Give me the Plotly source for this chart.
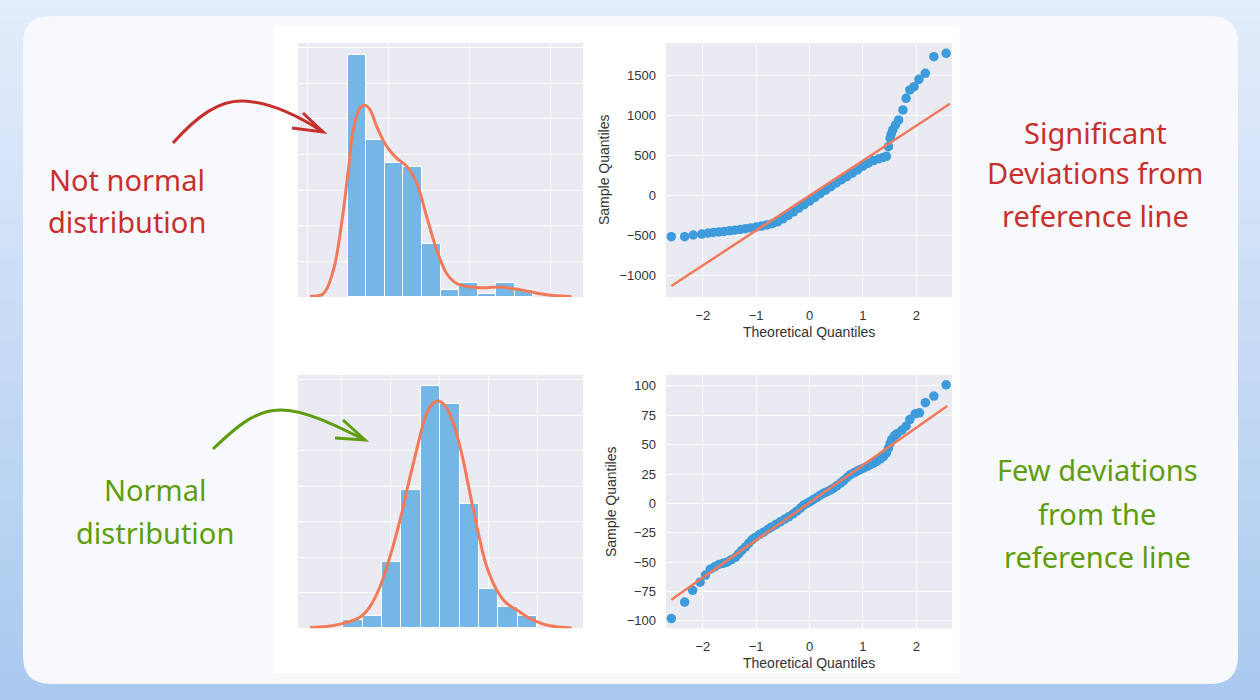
import numpy as np
import plotly.graph_objects as go

W, H = 1260, 700

# --- top row: skewed sample -------------------------------------------------
skew_bin_start = -501
skew_bin_width = 229
skew_heights = [68, 44.2, 37.7, 36.6, 15, 1.9, 3.9, 0.8, 3.9, 2.1]
skew_kde_x = [-965, -801, -677, -575, -492, -431, -349, -287, -225, -143, -20,
              104, 227, 350, 473, 597, 720, 843, 1008, 1213, 1378, 1542, 1706,
              1871, 2035, 2261]
skew_kde_y = [0.2, 0.9, 7.5, 20.7, 35.7, 47.0, 53.1, 53.8, 52.6, 47.9, 42.3,
              39.0, 36.7, 32.0, 22.6, 13.2, 6.6, 3.8, 2.8, 2.6, 2.8, 2.3, 1.7,
              0.9, 0.4, 0.1]

skew_qq_theo = [-2.59, -2.34, -2.18, -2.02, -1.90, -1.80, -1.70, -1.60, -1.50,
                -1.40, -1.30, -1.20, -1.10, -1.00, -0.90, -0.80, -0.70, -0.60,
                -0.50, -0.40, -0.30, -0.20, -0.10, 0.00, 0.10, 0.20, 0.30, 0.40,
                0.50, 0.60, 0.70, 0.80, 0.90, 1.00, 1.10, 1.20, 1.30, 1.38,
                1.44, 1.48, 1.51, 1.53, 1.56, 1.61, 1.67, 1.75, 1.81, 1.88,
                1.96, 2.05, 2.17, 2.33, 2.56]
skew_qq_sample = [-521, -521, -500, -488, -476, -468, -461, -455, -448, -440,
                  -431, -422, -412, -400, -388, -374, -358, -335, -298, -254,
                  -210, -163, -120, -76, -30, 16, 60, 104, 150, 192, 230, 272,
                  315, 360, 397, 430, 453, 470, 483, 604, 708, 760, 813, 875,
                  938, 1063, 1208, 1313, 1354, 1446, 1521, 1729, 1771]
skew_line_x = [-2.59, 2.63]
skew_line_y = [-1137, 1140]

# --- bottom row: normal sample ----------------------------------------------
norm_bin_start = -97.7
norm_bin_width = 19.76
norm_heights = [2.3, 3.5, 18.6, 39.0, 68.3, 63.1, 35.0, 11.0, 5.9, 3.5]
norm_kde_x = [-131.6, -114.6, -97.7, -80.7, -70.5, -60.3, -50.1, -39.9, -29.7,
              -23.0, -16.2, -9.4, -1.9, 5.9, 14.4, 22.9, 31.4, 39.9, 48.4, 58.6,
              68.8, 79.0, 89.1, 99.3, 112.9, 135.0]
norm_kde_y = [0.2, 0.5, 1.4, 3.1, 6.1, 11.7, 20.2, 30.5, 42.7, 50.2, 57.7, 62.4,
              64.1, 62.9, 57.7, 49.3, 38.0, 26.8, 17.4, 10.8, 7.0, 5.2, 3.3, 1.9,
              0.7, 0.1]

norm_qq_theo = [-2.59, -2.34, -2.19, -2.05, -1.95, -1.86, -1.78, -1.70, -1.62,
                -1.55, -1.47, -1.39, -1.33, -1.27, -1.20, -1.14, -1.08, -1.02,
                -0.94, -0.86, -0.78, -0.71, -0.63, -0.55, -0.47, -0.39, -0.31,
                -0.24, -0.17, -0.11, -0.05, 0.01, 0.07, 0.14, 0.20, 0.26, 0.33,
                0.39, 0.45, 0.51, 0.58, 0.64, 0.70, 0.76, 0.83, 0.89, 0.95,
                1.01, 1.08, 1.14, 1.20, 1.26, 1.33, 1.39, 1.44, 1.48, 1.51,
                1.54, 1.59, 1.64, 1.73, 1.81, 1.88, 1.98, 2.06, 2.17, 2.33, 2.56]
norm_qq_sample = [-98, -84, -74, -67, -61, -56, -54, -52, -51, -50, -48, -46,
                  -43, -40, -37, -34, -31, -29, -26.5, -24.5, -22, -20, -18,
                  -15.7, -13.5, -11.4, -9, -6.6, -4, -1.5, 0, 1.5, 3.3, 5.1, 7,
                  8.6, 10, 11.4, 13, 15, 17.2, 19.4, 22, 24.3, 26, 27.5, 28.8,
                  30, 31.5, 33, 34.3, 35.7, 37.8, 40, 43, 47, 51, 54.3, 57.5,
                  59.4, 62.3, 65.7, 71.4, 76.3, 77.1, 85.7, 91.4, 100.9]
norm_line_x = [-2.59, 2.58]
norm_line_y = [-82, 83]

# --- notes ------------------------------------------------------------------
top_left_note = ["Not normal", "distribution"]
top_right_note = ["Significant", "Deviations from", "reference line"]
bottom_left_note = ["Normal", "distribution"]
bottom_right_note = ["Few deviations", "from the", "reference line"]

BAR = "#74B7E6"
KDE = "#F27A5B"
DOT = "#3D9BDC"
RED = "#C8302E"
GREEN = "#5F9D0E"
PANEL = "#EAEAF2"
TICK_FONT = dict(family="Liberation Sans, Arial, sans-serif", size=13, color="#333333")


def px(x):
    return x / W


def py(y):
    return 1 - y / H


def bin_centers(start, width, n):
    return start + width * (np.arange(n) + 0.5)


fig = go.Figure()

# histograms + kde (xaxis / xaxis3)
for xa, ya, start, width, heights, kx, ky in [
    ("x", "y", skew_bin_start, skew_bin_width, skew_heights, skew_kde_x, skew_kde_y),
    ("x3", "y3", norm_bin_start, norm_bin_width, norm_heights, norm_kde_x, norm_kde_y),
]:
    fig.add_trace(go.Bar(
        x=bin_centers(start, width, len(heights)), y=heights, width=width,
        marker=dict(color=BAR, line=dict(color="white", width=1)),
        xaxis=xa, yaxis=ya,
    ))
    fig.add_trace(go.Scatter(
        x=kx, y=ky, mode="lines", line=dict(color=KDE, width=3, shape="spline"),
        xaxis=xa, yaxis=ya,
    ))

# qq plots (xaxis2 / xaxis4)
for xa, ya, tx, sy, lx, ly in [
    ("x2", "y2", skew_qq_theo, skew_qq_sample, skew_line_x, skew_line_y),
    ("x4", "y4", norm_qq_theo, norm_qq_sample, norm_line_x, norm_line_y),
]:
    fig.add_trace(go.Scatter(
        x=tx, y=sy, mode="markers", marker=dict(color=DOT, size=9.5),
        xaxis=xa, yaxis=ya,
    ))
    fig.add_trace(go.Scatter(
        x=lx, y=ly, mode="lines", line=dict(color=KDE, width=2.5),
        xaxis=xa, yaxis=ya,
    ))

left_dom = [px(298), px(583)]
right_dom = [px(666), px(952)]
top_dom = [py(297), py(43)]
bottom_dom = [py(628.3), py(375)]

hist_ax = dict(showticklabels=False, showgrid=True, gridcolor="white",
               gridwidth=1.2, zeroline=False, showline=False, ticks="")
qq_ax = dict(showgrid=True, gridcolor="white", gridwidth=1.2, zeroline=False,
             showline=False, ticks="", tickfont=TICK_FONT, ticklabelstandoff=9)

fig.update_layout(
    xaxis=dict(hist_ax, domain=left_dom, anchor="y", range=[-1113, 2401], tick0=0, dtick=1000),
    yaxis=dict(hist_ax, domain=top_dom, anchor="x", range=[0, 71.3], dtick=10),
    xaxis3=dict(hist_ax, domain=left_dom, anchor="y3", range=[-143.8, 146.5], tick0=0, dtick=50),
    yaxis3=dict(hist_ax, domain=bottom_dom, anchor="x3", range=[0, 71.4], dtick=10),
    xaxis2=dict(qq_ax, domain=right_dom, anchor="y2", range=[-2.69, 2.67], dtick=1),
    yaxis2=dict(qq_ax, domain=top_dom, anchor="x2", range=[-1275, 1900], dtick=500),
    xaxis4=dict(qq_ax, domain=right_dom, anchor="y4", range=[-2.69, 2.67], dtick=1),
    yaxis4=dict(qq_ax, domain=bottom_dom, anchor="x4", range=[-106.3, 109.3], dtick=25),
    bargap=0,
    showlegend=False,
    width=W, height=H, autosize=False,
    margin=dict(l=0, r=0, t=0, b=0, pad=0),
    paper_bgcolor="#E3EDFB",
    plot_bgcolor=PANEL,
)

shapes = []
# vertical background gradient
top_rgb = np.array([227, 237, 251])
bot_rgb = np.array([169, 201, 239])
for i in range(70):
    c = top_rgb + (bot_rgb - top_rgb) * (i + 0.5) / 70
    shapes.append(dict(type="rect", xref="paper", yref="paper", layer="below",
                       x0=0, x1=1, y0=py(i * 10 + 11), y1=py(i * 10),
                       fillcolor="rgb(%d,%d,%d)" % tuple(c.round()), line=dict(width=0)))


def rounded(x0, y0, x1, y1, r):
    return (f"M {px(x0 + r)},{py(y0)} L {px(x1 - r)},{py(y0)} "
            f"Q {px(x1)},{py(y0)} {px(x1)},{py(y0 + r)} L {px(x1)},{py(y1 - r)} "
            f"Q {px(x1)},{py(y1)} {px(x1 - r)},{py(y1)} L {px(x0 + r)},{py(y1)} "
            f"Q {px(x0)},{py(y1)} {px(x0)},{py(y1 - r)} L {px(x0)},{py(y0 + r)} "
            f"Q {px(x0)},{py(y0)} {px(x0 + r)},{py(y0)} Z")


shapes.append(dict(type="path", xref="paper", yref="paper", layer="below",
                   path=rounded(23, 16, 1238, 684, 28), fillcolor="#F7F9FC",
                   line=dict(width=0)))
shapes.append(dict(type="rect", xref="paper", yref="paper", layer="below",
                   x0=px(274), x1=px(959), y0=py(673), y1=py(25),
                   fillcolor="white", line=dict(width=0)))
for xa, ya in [("x", "y"), ("x2", "y2"), ("x3", "y3"), ("x4", "y4")]:
    shapes.append(dict(type="rect", xref=xa + " domain", yref=ya + " domain",
                       layer="below", x0=0, x1=1, y0=0, y1=1,
                       fillcolor=PANEL, line=dict(width=0)))


def arrow(pts, head, color):
    (a, b), (c1, c2), (d1, d2), (e, f), (g1, g2), (h1, h2), (k, m) = pts
    curve = (f"M {px(a)},{py(b)} C {px(c1)},{py(c2)} {px(d1)},{py(d2)} {px(e)},{py(f)} "
             f"C {px(g1)},{py(g2)} {px(h1)},{py(h2)} {px(k)},{py(m)}")
    (p1, q1), (p2, q2) = head
    tip = (f"M {px(p1)},{py(q1)} L {px(k)},{py(m)} L {px(p2)},{py(q2)}")
    out = []
    for p in (curve, tip):
        out.append(dict(type="path", xref="paper", yref="paper", layer="above",
                        path=p, line=dict(color=color, width=3),
                        fillcolor="rgba(0,0,0,0)"))
    return out


shapes += arrow([(173, 143), (198, 115), (220, 100), (243, 101),
                 (270, 102), (300, 117), (323, 132)],
                [(292, 128), (303, 113)], RED)
shapes += arrow([(213, 449), (235, 428), (255, 410), (280, 410),
                 (305, 410), (335, 425), (365, 440)],
                [(335, 438), (343, 420)], GREEN)
fig.update_layout(shapes=shapes)

ann = []
NOTE_FONT = "Noto Sans, sans-serif"
for lines, cx, ys, color in [
    (top_left_note, 127, [180, 221], RED),
    (top_right_note, 1095, [132, 172, 216], RED),
    (bottom_left_note, 155, [490, 532], GREEN),
    (bottom_right_note, 1097, [470, 513, 556], GREEN),
]:
    for text, y in zip(lines, ys):
        ann.append(dict(text=text, x=px(cx), y=py(y), xref="paper", yref="paper",
                        showarrow=False, xanchor="center", yanchor="middle",
                        font=dict(family=NOTE_FONT, size=29, color=color)))

title_font = dict(family="Liberation Sans, Arial, sans-serif", size=14, color="#333333")
for text, x, y, angle in [
    ("Theoretical Quantiles", 809, 332, 0),
    ("Sample Quantiles", 604, 170, -90),
    ("Theoretical Quantiles", 809, 663, 0),
    ("Sample Quantiles", 611, 502, -90),
]:
    ann.append(dict(text=text, x=px(x), y=py(y), xref="paper", yref="paper",
                    showarrow=False, xanchor="center", yanchor="middle",
                    textangle=angle, font=title_font))
fig.update_layout(annotations=ann)

# the page body has a default margin; drop it so the figure fills the window
fig.write_html("out.html", config={"displayModeBar": False},
               post_script="document.body.style.margin='0';")
